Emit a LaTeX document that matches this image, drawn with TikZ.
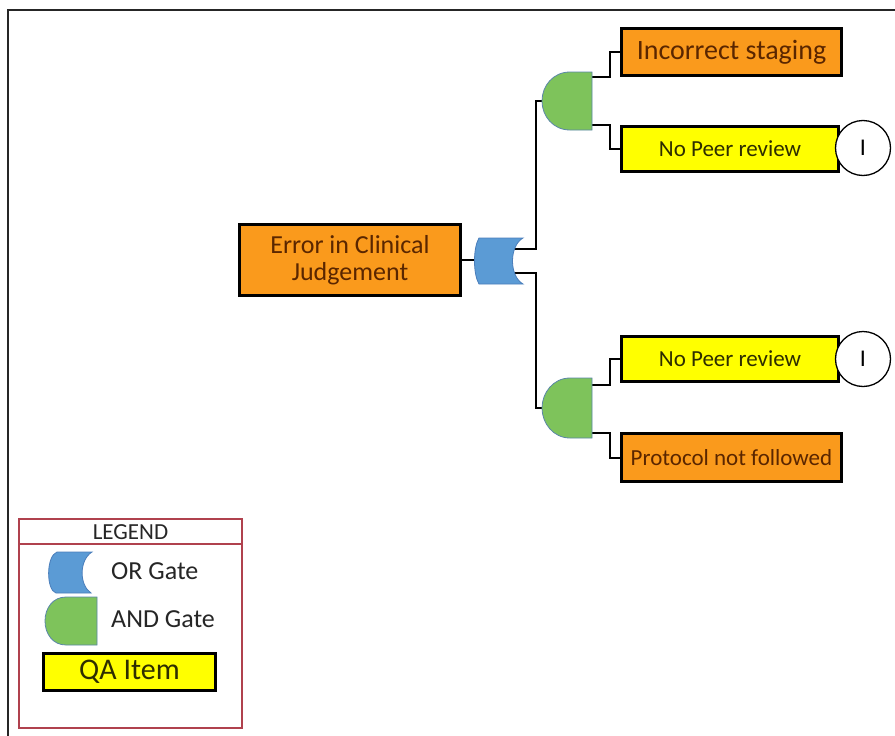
\documentclass[tikz,border=0pt]{standalone}
\usepackage{fontspec}
\setmainfont{Carlito}
\definecolor{evorange}{HTML}{FA9A1C}
\definecolor{evtext}{HTML}{5A2600}
\definecolor{qayellow}{HTML}{FFFF00}
\definecolor{qatext}{HTML}{2E2E00}
\definecolor{orblue}{HTML}{5B9BD5}
\definecolor{orline}{HTML}{4A7EBB}
\definecolor{andgreen}{HTML}{7EC35B}
\definecolor{andline}{HTML}{5A86A8}
\definecolor{legred}{HTML}{B0414E}
\newcommand{\fs}[1]{\fontsize{#1}{#1}\selectfont}
\begin{document}
\begin{tikzpicture}[x=1pt,y=-1pt,
  evt/.style={rectangle, draw=black, line width=3.5pt, inner sep=0pt, align=center},
  orangebox/.style={evt, fill=evorange, text=evtext},
  qabox/.style={evt, fill=qayellow, text=qatext},
  wire/.style={line width=2pt, black},
  gatebox/.style={rectangle, inner sep=0pt},
  orgate/.style={fill=orblue, draw=orline, line width=0.8pt},
  andgate/.style={fill=andgreen, draw=andline, line width=0.8pt},
  transfer/.style={circle, draw=black, fill=white, line width=1.3pt, minimum size=55pt, inner sep=0pt, text=black, font=\fs{24}},
  legtext/.style={anchor=west, inner sep=0pt, text=black!85, font=\fs{26}}]

\useasboundingbox (0,0) rectangle (895,736);
\fill[white] (0,0) rectangle (895,736);

% frame
\draw[line width=2pt, black!85] (8,736) -- (8,10) -- (895,10);

% events
\node[orangebox, minimum width=221pt, minimum height=71pt, font=\fs{26}] (err) at (350,260)
  {Error in Clinical\\[1pt]Judgement};
\node[orangebox, minimum width=220pt, minimum height=47pt, font=\fs{28}] (inc) at (731.5,52) {Incorrect staging};
\node[qabox, minimum width=217pt, minimum height=45pt, font=\fs{23}] (peer1) at (730,149) {No Peer review};
\node[qabox, minimum width=217pt, minimum height=45pt, font=\fs{23}] (peer2) at (730,359) {No Peer review};
\node[orangebox, minimum width=220pt, minimum height=48pt, font=\fs{23}] (prot) at (731.5,457.5) {Protocol not followed};

% gate placeholders and pins
\node[gatebox, minimum width=48pt, minimum height=46pt] (or) at (499,261) {};
\node[gatebox, minimum width=50pt, minimum height=58pt] (and1) at (567,101) {};
\node[gatebox, minimum width=50pt, minimum height=60pt] (and2) at (567,408) {};
\coordinate (or-a) at (512,249);
\coordinate (or-b) at (512,273);
\coordinate (and1-a) at (592,77);
\coordinate (and1-b) at (592,125);
\coordinate (and2-a) at (592,385);
\coordinate (and2-b) at (592,433);

% connectors
\draw[wire] (err.east) -- (err.east -| or.west);
\draw[wire] (or-a) -- ++(24,0) |- (and1.west);
\draw[wire] (or-b) -- ++(24,0) |- (and2.west);
\draw[wire] (and1-a) -- ++(18,0) |- (inc.west);
\draw[wire] (and1-b) -- ++(18,0) |- (peer1.west);
\draw[wire] (and2-a) -- ++(18,0) |- (peer2.west);
\draw[wire] (and2-b) -- ++(18,0) |- (prot.west);

% OR gate
\draw[orgate] (479,238) -- (523,238) .. controls (509,246) and (509,276) .. (523,284)
  -- (479,284) .. controls (473,274) and (473,248) .. (479,238) -- cycle;
% AND gates
\draw[andgate] (592,72) -- (570,72) .. controls (553,72) and (542,86) .. (542,101)
  .. controls (542,116) and (553,130) .. (570,130) -- (592,130) -- cycle;
\draw[andgate] (592,378) -- (570,378) .. controls (553,378) and (542,393) .. (542,408)
  .. controls (542,423) and (553,438) .. (570,438) -- (592,438) -- cycle;

% transfer symbols
\node[transfer] (t1) at (863,148) {I};
\node[transfer] (t2) at (863,359) {I};

% legend
\node[rectangle, draw=legred, line width=1.2pt, minimum width=223pt, minimum height=209pt, inner sep=0pt] (legend) at (130.5,623.5) {};
\draw[legred, line width=1.2pt] (legend.west |- 0,544) -- (legend.east |- 0,544);
\node[text=black!85, font=\fs{23}, inner sep=0pt] (legtitle) at (130.5,532) {LEGEND};
\draw[orgate] (57,552) -- (92,552) .. controls (79,560) and (79,585) .. (91,593)
  -- (56,593) .. controls (46,590) and (46,556) .. (57,552) -- cycle;
\node[legtext] (legor) at (111,571) {OR Gate};
\draw[andgate] (97,597) -- (66,597) .. controls (53,597) and (45,608) .. (45,621)
  .. controls (45,634) and (53,645) .. (66,645) -- (97,645) -- cycle;
\node[legtext] (legand) at (111,619) {AND Gate};
\node[qabox, minimum width=172pt, minimum height=37pt, font=\fs{30}] (legqa) at (129.5,672) {QA Item};
\end{tikzpicture}
\end{document}
